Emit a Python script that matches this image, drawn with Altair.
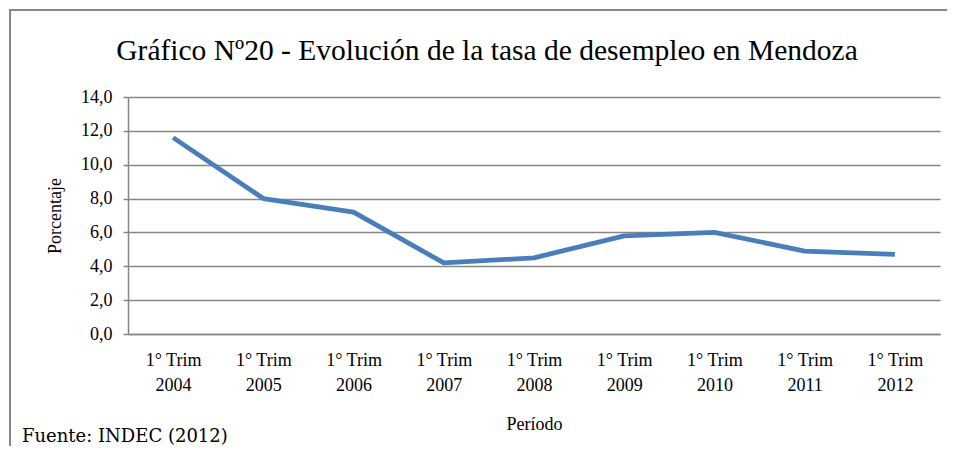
import altair as alt
import pandas as pd

categories = ["1° Trim|2004", "1° Trim|2005", "1° Trim|2006", "1° Trim|2007", "1° Trim|2008",
              "1° Trim|2009", "1° Trim|2010", "1° Trim|2011", "1° Trim|2012"]
values = [11.6, 8.0, 7.2, 4.2, 4.5, 5.8, 6.0, 4.9, 4.7]
y_ticks = [0, 2, 4, 6, 8, 10, 12, 14]
title_text = "Gráfico Nº20 - Evolución de la tasa de desempleo en Mendoza"
footer_text = "Fuente: INDEC (2012)"

df = pd.DataFrame({"periodo": categories, "valor": values})
SERIF = "Liberation Serif"
GRAY = "#868686"

line = alt.Chart(df).mark_line(color="#4a7ebb", strokeWidth=4.8, strokeJoin="round").encode(
    x=alt.X("periodo:N", sort=categories,
            scale=alt.Scale(type="point", padding=0.5),
            axis=alt.Axis(title="Período", labelExpr="split(datum.label, '|')",
                          labelAngle=0, ticks=False, labelPadding=17,
                          titlePadding=21, domainColor=GRAY, domainWidth=1.5,
                          labelLineHeight=25, grid=False)),
    y=alt.Y("valor:Q", scale=alt.Scale(domain=[0, 14], nice=False),
            axis=alt.Axis(title="Porcentaje", values=y_ticks,
                          labelExpr="replace(format(datum.value, '.1f'), '.', ',')",
                          tickSize=5, tickColor=GRAY, tickWidth=1.5, labelPadding=11,
                          domainColor=GRAY, domainWidth=1.5, gridColor=GRAY, gridWidth=1.5,
                          titlePadding=16)),
)

one = pd.DataFrame({"a": [0]})
top_border = alt.Chart(one).mark_rule(stroke=GRAY, strokeWidth=2).encode(
    x=alt.value(-119), x2=alt.value(830), y=alt.value(-87))
left_border = alt.Chart(one).mark_rule(stroke=GRAY, strokeWidth=2).encode(
    x=alt.value(-118), y=alt.value(-88), y2=alt.value(360))
title = alt.Chart(one).mark_text(text=title_text, font=SERIF, fontSize=29.5, align="center",
                                  baseline="alphabetic", color="#000").encode(
    x=alt.value(359), y=alt.value(-37))
footer = alt.Chart(one).mark_text(text=footer_text, font="DejaVu Serif",
                                   fontSize=18, align="left", baseline="middle",
                                   color="#000").encode(x=alt.value(-106), y=alt.value(340))

chart = alt.layer(top_border, left_border, line, title, footer).properties(
    width=812, height=237,
    autosize=alt.AutoSizeParams(type="none"),
    padding={"left": 120, "top": 89, "right": 7, "bottom": 112},
).configure_view(stroke=None).configure_axis(
    labelFont=SERIF, labelFontSize=18, labelColor="#000",
    titleFont=SERIF, titleFontSize=18, titleColor="#000", titleFontWeight="normal",
)

chart.save("out.html", embed_options={"renderer": "svg", "actions": False})
